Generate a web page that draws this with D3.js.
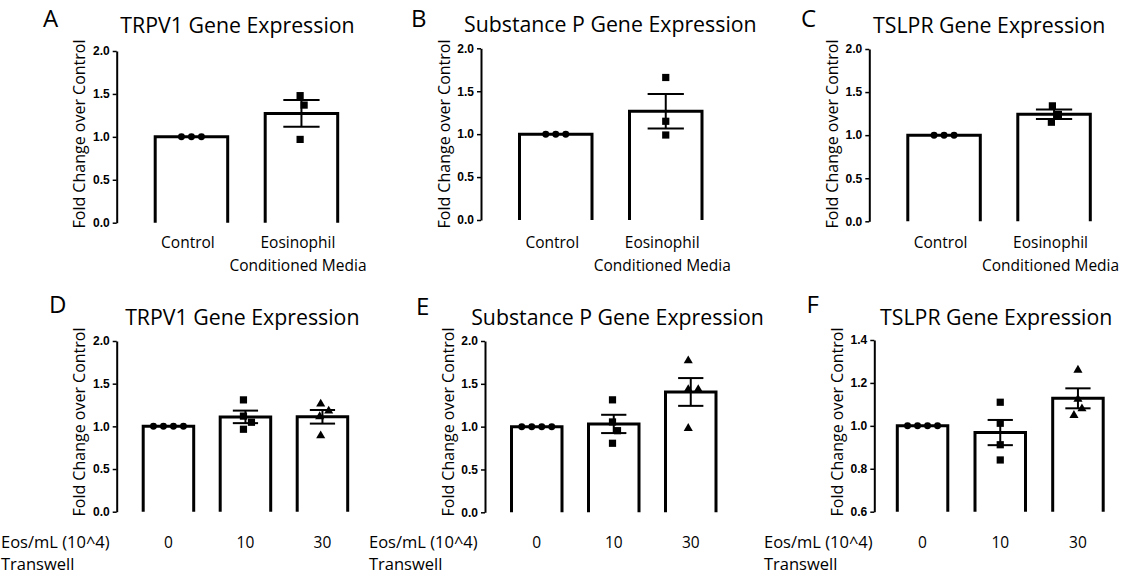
<!DOCTYPE html>
<head>
  <meta charset="utf-8">
  <script src="https://d3js.org/d3.v7.min.js"></script>
  <style>
    body { margin:0; background:#fff; }
    svg { display:block; }
    text { font-family: 'Open Sans', sans-serif; fill:#000; }
    .tick text { font-family: 'Liberation Sans', Arial, sans-serif; font-weight:bold; font-size:12px; }
  </style>
</head>

<body>
  <svg width="1134" height="575"></svg>
  <script>
    // categories
    var cmGroups = ['Control', 'Eosinophil Conditioned Media'];
    var cmLabels = [['Control'], ['Eosinophil', 'Conditioned Media']];
    var eosGroups = ['0', '10', '30'];
    var eosRowLabel = ['Eos/mL (10^4)', 'Transwell'];

    var titles = ['TRPV1 Gene Expression', 'Substance P Gene Expression', 'TSLPR Gene Expression'];
    var yLabel = 'Fold Change over Control';

    // individual replicates (fold change)
    var trpv1CM   = [[1, 1, 1], [1.48, 1.37, 0.97]];
    var substPCM  = [[1, 1, 1], [1.66, 1.15, 0.99]];
    var tslprCM   = [[1, 1, 1], [1.34, 1.24, 1.15]];
    var trpv1Eos  = [[1, 1, 1, 1], [1.31, 1.12, 1.048, 0.966], [1.263, 1.18, 1.114, 0.891]];
    var substPEos = [[1, 1, 1, 1], [1.313, 1.055, 0.953, 0.806], [1.77, 1.435, 1.435, 0.98]];
    var tslprEos  = [[1, 1, 1, 1], [1.11, 1.012, 0.912, 0.841], [1.26, 1.124, 1.08, 1.049]];

    // tick values
    var ticksMain = [0, 0.5, 1.0, 1.5, 2.0];
    var ticksF = [0.6, 0.8, 1.0, 1.2, 1.4];

    var svg = d3.select('svg');
    var shapes = [d3.symbolCircle, d3.symbolSquare, d3.symbolTriangle];
    var shapeSize = [38, 52, 36];

    // simple beeswarm so equal values spread sideways
    function swarm(vals, y, d) {
      var placed = [];
      vals.forEach(v => {
        var py = y(v), k = 0, off = 0;
        while (true) {
          off = k === 0 ? 0 : (k % 2 ? (k + 1) / 2 : -k / 2);
          if (placed.every(p => Math.hypot(p.dx - off, p.py - py) >= d)) break;
          k++;
        }
        placed.push({dx: off, py: py});
      });
      var m = d3.mean(placed, p => p.dx);
      placed.forEach(p => p.dx -= m);
      return placed;
    }

    function drawPanel(p) {
      var g = svg.append('g');
      var y = d3.scaleLinear().domain(d3.extent(p.ticks)).range([p.yBottom, p.yTop]);
      var n = p.groups.length;
      var gap = p.step - p.barW;
      var start = p.axisX + p.first - gap / 2;
      var x = d3.scaleBand()
        .domain(p.groups)
        .range([start, start + n * p.step])
        .paddingInner(gap / p.step)
        .paddingOuter(gap / p.step / 2);

      var stats = p.data.map((vals, i) => ({
        key: p.groups[i],
        vals: vals,
        mean: d3.mean(vals),
        sem: d3.deviation(vals) / Math.sqrt(vals.length)
      }));

      // bars (open at the bottom)
      g.selectAll('path.bar').data(stats).enter().append('path')
        .attr('class', 'bar')
        .attr('d', d => 'M' + x(d.key) + ',' + y.range()[0] +
                        'V' + y(d.mean) + 'H' + (x(d.key) + x.bandwidth()) + 'V' + y.range()[0])
        .attr('fill', '#fff')
        .attr('stroke', '#000')
        .attr('stroke-width', 3);

      // error bars
      var cap = x.bandwidth() * 0.5;
      stats.filter(d => d.sem > 0).forEach(d => {
        var cx = x(d.key) + x.bandwidth() / 2;
        var eb = g.append('g').attr('stroke', '#000').attr('stroke-width', 2);
        eb.append('line').attr('x1', cx).attr('x2', cx)
          .attr('y1', y(d.mean + d.sem)).attr('y2', y(d.mean - d.sem));
        [d.mean + d.sem, d.mean - d.sem].forEach(v => {
          eb.append('line').attr('x1', cx - cap / 2).attr('x2', cx + cap / 2)
            .attr('y1', y(v)).attr('y2', y(v));
        });
      });

      // replicate points
      stats.forEach((d, i) => {
        var cx = x(d.key) + x.bandwidth() / 2;
        var pts = swarm(d.vals, y, 10);
        g.selectAll(null).data(pts).enter().append('path')
          .attr('d', d3.symbol().type(shapes[i]).size(shapeSize[i]))
          .attr('transform', q => 'translate(' + (cx + q.dx) + ',' + q.py + ')')
          .attr('fill', '#000');
      });

      // y axis
      var axis = g.append('g')
        .attr('transform', 'translate(' + p.axisX + ',0)')
        .call(d3.axisLeft(y).tickValues(p.ticks).tickFormat(d3.format('.1f'))
          .tickSize(4).tickSizeOuter(0).tickPadding(3));
      axis.select('.domain').attr('stroke-width', 2);
      axis.selectAll('.tick line').attr('stroke-width', 1.5);

      // y label
      g.append('text')
        .attr('transform', 'translate(' + (p.axisX - 31.5) + ',' + p.labelY + ') rotate(-90)')
        .attr('text-anchor', 'middle')
        .style('font-size', '16px')
        .text(yLabel);

      // title and panel letter
      g.append('text').attr('x', p.titleX).attr('y', p.titleY)
        .attr('text-anchor', 'middle').style('font-size', '21.3px').text(p.title);
      g.append('text').attr('x', p.letterX).attr('y', p.letterY)
        .style('font-size', '24px').text(p.letter);

      // category labels
      if (p.catLabels) {
        p.catLabels.forEach((lines, i) => {
          var cx = x(p.groups[i]) + x.bandwidth() / 2 - 3.5;
          lines.forEach((ln, j) => {
            g.append('text').attr('x', cx).attr('y', 248 + j * 23)
              .attr('text-anchor', 'middle').style('font-size', '15.5px').text(ln);
          });
        });
      } else {
        p.groups.forEach(k => {
          g.append('text').attr('x', x(k) + x.bandwidth() / 2).attr('y', 548)
            .attr('text-anchor', 'middle').style('font-size', '15.5px').text(k);
        });
        eosRowLabel.forEach((ln, j) => {
          g.append('text').attr('x', p.rowLabelX).attr('y', 548 + j * 21.5)
            .style('font-size', '16.5px').text(ln);
        });
      }
    }

    var row1 = {groups: cmGroups, catLabels: cmLabels, ticks: ticksMain, first: 38.5, barW: 72.5, step: 110, labelY: 134};
    var row2 = {groups: eosGroups, first: 26.5, barW: 50.5, step: 77, labelY: 422};

    drawPanel(Object.assign({}, row1, {letter: 'A', title: titles[0], data: trpv1CM,
      axisX: 116.7, yBottom: 222.7, yTop: 51, titleX: 237.5, titleY: 33, letterX: 43, letterY: 26.5}));
    drawPanel(Object.assign({}, row1, {letter: 'B', title: titles[1], data: substPCM,
      axisX: 481, yBottom: 220, yTop: 48.3, titleX: 610.3, titleY: 32, letterX: 411, letterY: 26.5}));
    drawPanel(Object.assign({}, row1, {letter: 'C', title: titles[2], data: tslprCM,
      axisX: 869.3, yBottom: 221.3, yTop: 49, titleX: 989.2, titleY: 33, letterX: 801, letterY: 26.5}));

    drawPanel(Object.assign({}, row2, {letter: 'D', title: titles[0], data: trpv1Eos, ticks: ticksMain,
      axisX: 116.7, yBottom: 511.7, yTop: 341, titleX: 242.3, titleY: 324.5, letterX: 49, letterY: 313, rowLabelX: 1}));
    drawPanel(Object.assign({}, row2, {letter: 'E', title: titles[1], data: substPEos, ticks: ticksMain,
      axisX: 485, yBottom: 512.3, yTop: 341, titleX: 617.5, titleY: 325, letterX: 416, letterY: 315, rowLabelX: 369}));
    drawPanel(Object.assign({}, row2, {letter: 'F', title: titles[2], data: tslprEos, ticks: ticksF,
      axisX: 874.3, yBottom: 511.7, yTop: 340, first: 23, step: 77.7, titleX: 996.2, titleY: 325, letterX: 806.5, letterY: 313, rowLabelX: 764}));
  </script>
</body>
